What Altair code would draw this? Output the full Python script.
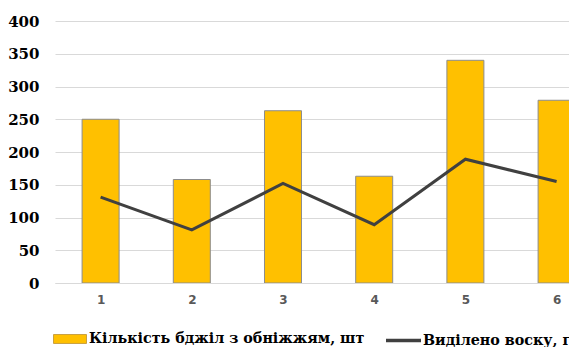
import altair as alt
import pandas as pd

categories = [1, 2, 3, 4, 5, 6]
bees = [250, 158, 263, 163, 340, 279]
wax = [131, 81, 152, 89, 189, 155]
bees_label = "Кількість бджіл з обніжжям, шт"
wax_label = "Виділено воску, г"
y_ticks = [0, 50, 100, 150, 200, 250, 300, 350, 400]

SERIF = "DejaVu Serif"

df = pd.DataFrame({"cat": categories, "bees": bees, "wax": wax,
                   "lb": [bees_label] * 6, "lw": [wax_label] * 6})

xscale = alt.Scale(domain=[0.5, 6.136], nice=False, zero=False, padding=0)
xaxis = alt.Axis(values=categories, format="d", title=None, grid=False, ticks=False,
                 labelPadding=11, labelFont="DejaVu Sans", labelFontSize=12,
                 labelFontWeight="bold", labelColor="#595959",
                 domain=True, domainColor="#d9d9d9", domainWidth=1)
yscale = alt.Scale(domain=[0, 400], nice=False)
yaxis = alt.Axis(values=y_ticks, title=None, grid=True, gridColor="#d9d9d9", gridWidth=1,
                 ticks=False, domain=False, labelPadding=16, labelOverlap=False,
                 labelFont=SERIF, labelFontSize=15, labelFontWeight="bold",
                 labelColor="#000000")

bars = alt.Chart(df).mark_bar(width=37, stroke="#8c8c8c", strokeWidth=1, clip=True).encode(
    x=alt.X("cat:Q", scale=xscale, axis=xaxis),
    y=alt.Y("bees:Q", scale=yscale, axis=yaxis),
    fill=alt.Fill("lb:N", scale=alt.Scale(domain=[bees_label], range=["#FFC000"]),
                  legend=alt.Legend(orient="none", legendX=-2, legendY=301, title=None,
                                    symbolType="M-1,-0.27H1V0.27H-1Z", symbolSize=1089,
                                    symbolStrokeColor="#c9a040", symbolStrokeWidth=1,
                                    symbolOpacity=1, labelOffset=2,
                                    labelFont=SERIF, labelFontSize=14.3,
                                    labelFontWeight="bold", labelColor="#000000",
                                    labelLimit=1000, padding=0)),
)

line = alt.Chart(df).mark_line(strokeWidth=3, clip=True).encode(
    x=alt.X("cat:Q", scale=xscale, axis=xaxis),
    y=alt.Y("wax:Q", scale=yscale, axis=yaxis),
    stroke=alt.Stroke("lw:N", scale=alt.Scale(domain=[wax_label], range=["#404040"]),
                      legend=alt.Legend(orient="none", legendX=329, legendY=300, title=None,
                                        symbolType="stroke", symbolSize=1225,
                                        symbolStrokeWidth=3.5, labelOffset=0,
                                        labelFont=SERIF, labelFontSize=14.3,
                                        labelFontWeight="bold", labelColor="#000000",
                                        labelLimit=1000, padding=0)),
)

chart = alt.layer(bars, line).resolve_scale(fill="independent", stroke="independent").properties(
    width=514, height=262,
    autosize=alt.AutoSizeParams(type="none"),
    padding={"left": 55, "top": 21, "right": 0, "bottom": 64},
    background="white",
).configure_view(stroke=None).configure_legend(
    labelFont=SERIF, labelFontSize=14.3, labelFontWeight="bold", labelColor="#000000"
)

chart.save("out.html", embed_options={"renderer": "svg", "actions": False})
